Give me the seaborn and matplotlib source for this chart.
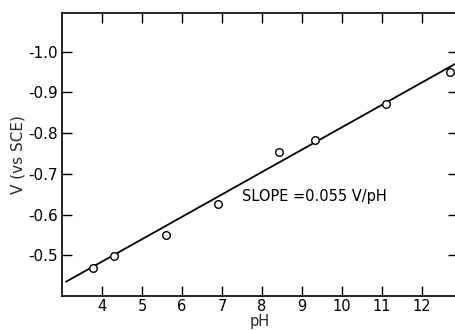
import numpy as np
import pandas as pd
import matplotlib
matplotlib.use("Agg")
import matplotlib.pyplot as plt
import seaborn as sns

# Measured potentials against pH
ph_values = [3.78, 4.29, 5.59, 6.91, 8.43, 9.33, 11.11, 12.70]
potential_v = [-0.468, -0.498, -0.549, -0.626, -0.754, -0.783, -0.871, -0.950]

# Fitted line
slope = 0.055
line_ph = [3.1, 12.9]
line_v0 = -0.435  # potential at pH 3.1

x_ticks = [4, 5, 6, 7, 8, 9, 10, 11, 12]
y_ticks = [-0.5, -0.6, -0.7, -0.8, -0.9, -1.0]
y_ticklabels = ["-0.5", "-0.6", "-0.7", "-0.8", "-0.9", "-1.0"]

sns.set_style("ticks")
plt.rcParams["font.family"] = ["DejaVu Sans"]

fig = plt.figure(figsize=(4.55, 3.3), dpi=100)
ax = fig.add_axes([62 / 455, 34 / 330, 396 / 455, 283 / 330])

points = pd.DataFrame({"pH": ph_values, "V": potential_v})
fit = pd.DataFrame({
    "pH": line_ph,
    "V": [line_v0 - slope * (p - line_ph[0]) for p in line_ph],
})

sns.lineplot(data=fit, x="pH", y="V", ax=ax, color="black", linewidth=1.3)
sns.scatterplot(data=points, x="pH", y="V", ax=ax, marker="o", s=30,
                facecolor="white", edgecolor="black", linewidth=1.0, zorder=3)

ax.set_xlim(3.0, 12.9)
ax.set_ylim(-0.40, -1.095)

ax.set_xticks(x_ticks)
ax.set_xticklabels([str(t) for t in x_ticks])
ax.set_yticks(y_ticks)
ax.set_yticklabels(y_ticklabels)

ax.tick_params(axis="both", direction="in", length=7, width=1.0,
               labelsize=11, colors="black",
               top=True, right=True)
ax.tick_params(axis="x", pad=2, labelsize=10.5)
ax.tick_params(axis="y", pad=3)

for s in ax.spines.values():
    s.set_linewidth(1.2)
    s.set_color("black")

ax.set_xlabel("pH", fontsize=10.5, labelpad=0)
ax.set_ylabel("V (vs SCE)", fontsize=11, labelpad=2)

ax.text(7.5, -0.644, "SLOPE =0.055 V/pH", fontsize=10.5, va="center",
        ha="left", color="black")

fig.savefig("out.png", dpi=100)
